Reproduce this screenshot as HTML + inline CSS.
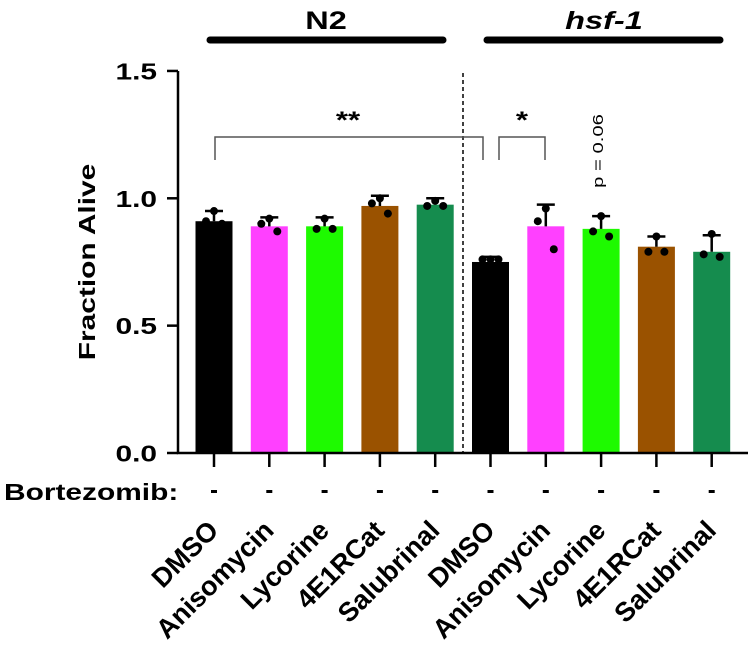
<!DOCTYPE html>
<html><head><meta charset="utf-8"><style>
html,body{margin:0;padding:0;background:#fff;width:751px;height:651px;overflow:hidden}
svg{display:block;font-family:"Liberation Sans",Arial,sans-serif;font-weight:bold}
</style></head><body>
<svg id="chart" width="751" height="651" viewBox="0 0 751 651">
<g id="static">
<text transform="translate(326,29) scale(1.3,1)" font-size="25" text-anchor="middle">N2</text>
<line x1="210" y1="40" x2="443" y2="40" stroke="#000" stroke-width="7" stroke-linecap="round"/>
<text transform="translate(604,29) scale(1.3,1)" font-size="25" font-style="italic" text-anchor="middle">hsf-1</text>
<line x1="487" y1="40" x2="720" y2="40" stroke="#000" stroke-width="7" stroke-linecap="round"/>
<text transform="translate(95,262) rotate(-90) scale(1.3,1)" font-size="23" text-anchor="middle">Fraction Alive</text>
<text transform="translate(4,500) scale(1.3,1)" font-size="23">Bortezomib:</text>
<line x1="463" y1="73" x2="463" y2="453" stroke="#000" stroke-width="1.5" stroke-dasharray="4,3"/>
<path d="M215,160 V137 H483 V160" fill="none" stroke="#555" stroke-width="1.5"/>
<text transform="translate(348,128) scale(1.3,1)" font-size="24" text-anchor="middle">**</text>
<path d="M499,160 V137 H545 V160" fill="none" stroke="#555" stroke-width="1.5"/>
<text transform="translate(522,128) scale(1.3,1)" font-size="24" text-anchor="middle">*</text>
<text transform="translate(603,151) rotate(-90) scale(1.35,1)" font-size="15" font-weight="normal" text-anchor="middle">p = 0.06</text>
</g>
<g id="marks"></g>
</svg>
<script>
const categories = ["DMSO","Anisomycin","Lycorine","4E1RCat","Salubrinal","DMSO","Anisomycin","Lycorine","4E1RCat","Salubrinal"];
const means = [0.91,0.89,0.89,0.97,0.975,0.75,0.89,0.88,0.81,0.79];
const errTops = [0.95,0.925,0.925,1.01,1.0,0.77,0.975,0.93,0.85,0.855];
const pointsA = [0.95,0.92,0.92,1.00,0.99,0.76,0.96,0.93,0.85,0.86];
const pointsB = [0.91,0.90,0.88,0.98,0.97,0.76,0.91,0.87,0.79,0.78];
const pointsC = [0.90,0.87,0.88,0.94,0.97,0.76,0.80,0.85,0.79,0.77];
const colors = ["#000000","#ff40ff","#1efa00","#9a5200","#158c4e","#000000","#ff40ff","#1efa00","#9a5200","#158c4e"];
const yTicks = [0, 0.5, 1.0, 1.5];
const yTickLabels = ["0.0","0.5","1.0","1.5"];
const NS="http://www.w3.org/2000/svg";
const g=document.getElementById('marks');
const y0=453, yPx=254.7, x0=214, step=55.3, bw=37, axX=178;
function yS(v){return y0-v*yPx;}
function xS(i){return x0+i*step;}
function mk(t,a){const e=document.createElementNS(NS,t);for(const k in a)e.setAttribute(k,a[k]);g.appendChild(e);return e;}
categories.forEach((c,i)=>{
  const x=xS(i);
  const r=mk('rect',{x:x-bw/2,y:yS(means[i]),width:bw,height:y0-yS(means[i]),fill:colors[i]});
  
  
  const e=mk('path',{d:`M${x},${yS(means[i])} V${yS(errTops[i])} M${x-9},${yS(errTops[i])} H${x+9}`,stroke:'#000','stroke-width':2.5,fill:'none'});
  
  
  [[pointsA,0],[pointsB,-8],[pointsC,8]].forEach(([arr,dx])=>{
    const p=mk('circle',{cx:x+dx,cy:yS(arr[i]),r:4,fill:'#000'});
    
    
  });
  const t=mk('line',{x1:x,y1:y0,x2:x,y2:y0+14,stroke:'#000','stroke-width':2.5});
  
  
  const d=mk('rect',{x:x-3,y:490,width:6,height:3,fill:'#000'});
  
  
  const l=mk('text',{transform:`translate(${x+6},532) rotate(-45)`,'font-size':27,'text-anchor':'end'});l.textContent=c;
  
  
});
const ax=mk('path',{d:`M${axX},${yS(1.5)} V${y0} H748`,stroke:'#000','stroke-width':2.5,fill:'none'});


yTicks.forEach((v,i)=>{
  const t=mk('line',{x1:axX-11,y1:yS(v),x2:axX,y2:yS(v),stroke:'#000','stroke-width':2.5});
  
  
  const l=mk('text',{transform:`translate(${axX-21},${yS(v)+8.5}) scale(1.3,1)`,'font-size':23,'text-anchor':'end'});l.textContent=yTickLabels[i];
  
  
});
</script>
</body></html>
